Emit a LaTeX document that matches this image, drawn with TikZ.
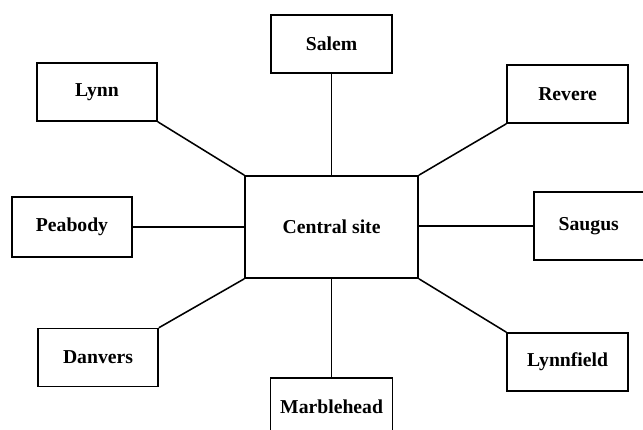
\documentclass[tikz,border=0pt]{standalone}
\usepackage{fontspec}
\setmainfont{Liberation Serif}
\usepackage{tikz}

\tikzset{
    site/.style={draw, line width=1.2pt, inner sep=0pt, minimum width=3cm,
        minimum height=1.45cm, font=\fontsize{14}{16}\selectfont\bfseries},
    link/.style={line width=1.1pt}
}

\begin{document}
\begin{tikzpicture}
    \clip (0, 0) rectangle (16.075, 10.75);
    \node[site, minimum width=4.325cm, minimum height=2.55cm] (central) at (8.29, 5.075) {Central site};
    \node[site, minimum width=3.025cm] (salem) at (8.29, 9.65) {Salem};
    \node[site] (lynn) at (2.425, 8.45) {Lynn};
    \node[site, minimum width=3.025cm] (revere) at (14.19, 8.4) {Revere};
    \node[site, minimum height=1.5cm] (peabody) at (1.8, 5.075) {Peabody};
    \node[site, minimum width=2.75cm, minimum height=1.7cm] (saugus) at (14.72, 5.1) {Saugus};
    \node[site] (danvers) at (2.45, 1.81) {Danvers};
    \node[site, minimum width=3.05cm] (marblehead) at (8.29, 0.575) {Marblehead};
    \node[site, minimum width=3.025cm] (lynnfield) at (14.19, 1.7) {Lynnfield};

    \draw[link] (salem.south) -- (central.north);
    \draw[link] (lynn.south east) -- (central.north west);
    \draw[link] (revere.south west) -- (central.north east);
    \draw[link] (peabody.east) -- (central.west);
    \draw[link] (saugus.west) -- (saugus.west -| central.east);
    \draw[link] (danvers.north east) -- (central.south west);
    \draw[link] (marblehead.north) -- (central.south);
    \draw[link] (lynnfield.north west) -- (central.south east);
\end{tikzpicture}
\end{document}
